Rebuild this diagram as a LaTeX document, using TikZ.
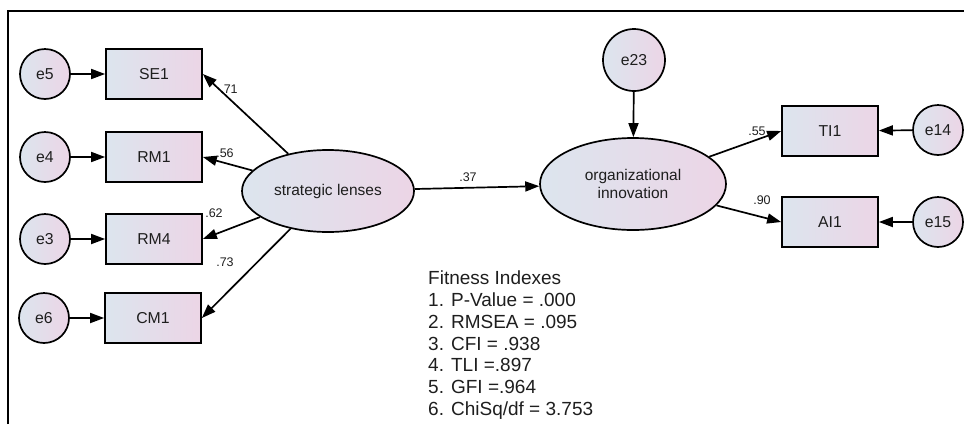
\documentclass[tikz,border=0pt]{standalone}
\usepackage{fontspec}
\setmainfont{Liberation Sans}
\usetikzlibrary{arrows.meta,shapes.geometric}
\definecolor{semblue}{RGB}{220,229,238}
\definecolor{sempink}{RGB}{236,213,230}
\definecolor{semtext}{RGB}{30,30,30}
\begin{document}
\begin{tikzpicture}[x=1pt,y=-1pt,
    obs/.style={left color=semblue,right color=sempink,draw=black,line width=1.7pt,minimum width=96pt,minimum height=50pt,text=semtext,font=\fontsize{15.8}{18}\selectfont},
    err/.style={circle,left color=semblue,right color=sempink,draw=black,line width=1.7pt,minimum size=50pt,inner sep=0pt,text=semtext,font=\fontsize{15.8}{18}\selectfont},
    lat/.style={ellipse,left color=semblue,right color=sempink,draw=black,line width=1.7pt,inner sep=0pt,align=center,text=semtext,font=\fontsize{15.5}{18}\selectfont},
    coef/.style={inner sep=0pt,text=semtext,font=\fontsize{12.5}{14}\selectfont},
    semarrow/.style={line width=1.7pt,-{Triangle[length=14pt,width=10pt]}}]
        \useasboundingbox (0,0) rectangle (964,424);
        \draw[line width=1.3pt] (8,424) -- (8,11) -- (964,11);

        \node[err] at (45, 74) (e5) {e5};
        \node[err] at (45, 157) (e4) {e4};
        \node[err] at (45, 239) (e3) {e3};
        \node[err] at (44, 318) (e6) {e6};

        \node[obs] at (154, 74) (se1) {SE1};
        \node[obs] at (154, 157) (rm1) {RM1};
        \node[obs] at (154, 239) (rm4) {RM4};
        \node[obs] at (153, 318) (cm1) {CM1};

        \node[lat,minimum width=172pt,minimum height=82pt] at (328, 191) (sl) {strategic lenses};
        \node[lat,minimum width=186pt,minimum height=92pt] at (633, 184) (oi) {organizational\\innovation};
        \node[err,minimum size=62pt] at (634, 60) (e23) {e23};

        \node[obs] at (830, 131) (ti1) {TI1};
        \node[obs] at (830, 222) (ai1) {AI1};
        \node[err] at (938, 130) (e14) {e14};
        \node[err] at (938, 222) (e15) {e15};

        \node[coef] at (229, 89) (c71) {.71};
        \node[coef] at (225, 153) (c56) {.56};
        \node[coef] at (214, 213) (c62) {.62};
        \node[coef] at (225, 262) (c73) {.73};
        \node[coef] at (468, 177) (c37) {.37};
        \node[coef] at (757, 131) (c55) {.55};
        \node[coef] at (762, 200) (c90) {.90};

        \node[anchor=north west,inner sep=0pt,align=left,text=semtext,font=\fontsize{19}{21.7}\selectfont] at (428, 271) (fit) {Fitness Indexes\\1. P-Value = .000\\2. RMSEA = .095\\3. CFI = .938\\4. TLI =.897\\5. GFI =.964\\6. ChiSq/df = 3.753};

        \draw[semarrow] (e5) -- (se1);
        \draw[semarrow] (e4) -- (rm1);
        \draw[semarrow] (e3) -- (rm4);
        \draw[semarrow] (e6) -- (cm1);
        \draw[semarrow] (sl) -- (se1.east);
        \draw[semarrow] (sl) -- (rm1.east);
        \draw[semarrow] (sl) -- (rm4.east);
        \draw[semarrow] (sl) -- (cm1.east);
        \draw[semarrow] (sl) -- (oi);
        \draw[semarrow] (e23) -- (oi);
        \draw[semarrow] (oi) -- (ti1.west);
        \draw[semarrow] (oi) -- (ai1.west);
        \draw[semarrow] (e14) -- (ti1);
        \draw[semarrow] (e15) -- (ai1);
    \end{tikzpicture}
\end{document}
